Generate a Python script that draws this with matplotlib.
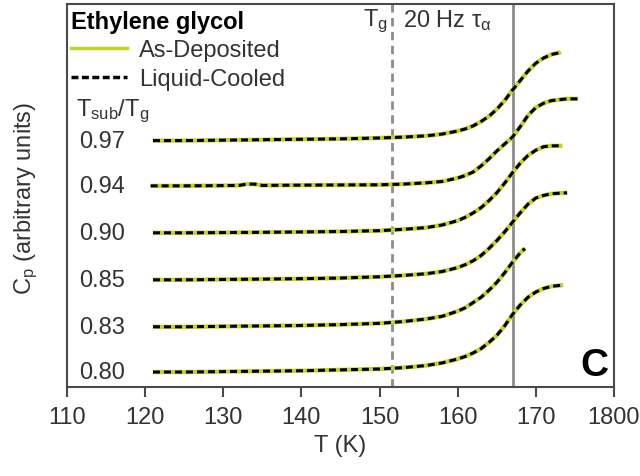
import matplotlib
matplotlib.use("Agg")
import matplotlib.pyplot as plt
from matplotlib.lines import Line2D

plt.rcParams['font.family'] = ['Liberation Sans', 'DejaVu Sans']
plt.rcParams['mathtext.fontset'] = 'custom'
plt.rcParams['mathtext.rm'] = 'Liberation Sans'
plt.rcParams['mathtext.it'] = 'Liberation Sans:italic'

green = '#c3d32a'
grey = '#8c8c8c'
frame = '#4a4a4a'

# Tsub/Tg ratios, bottom to top, with vertical offsets (arbitrary units)
ratios = ["0.80", "0.83", "0.85", "0.90", "0.94", "0.97"]
offsets = [0.0, 0.52, 1.06, 1.60, 2.14, 2.66]

# temperatures (K) and normalised Cp
t_080 = [121, 125, 130, 135, 140, 145, 150, 153, 156, 158, 160, 161, 162, 163, 164, 165, 166, 167, 168, 169, 170, 171, 172, 173.5]
cp_080 = [0, 0, 0.005, 0.01, 0.015, 0.025, 0.035, 0.05, 0.075, 0.105, 0.15, 0.18, 0.22, 0.27, 0.34, 0.42, 0.53, 0.66, 0.77, 0.86, 0.92, 0.96, 0.985, 1.0]

t_083 = [121, 125, 130, 135, 140, 145, 150, 153, 156, 158, 160, 161, 162, 163, 164, 165, 166, 167, 168, 168.6]
cp_083 = [0, 0, 0.005, 0.01, 0.015, 0.025, 0.04, 0.06, 0.09, 0.12, 0.18, 0.22, 0.28, 0.34, 0.42, 0.51, 0.62, 0.74, 0.85, 0.90]

t_085 = [121, 125, 130, 135, 140, 145, 150, 153, 156, 158, 160, 161, 162, 163, 164, 165, 166, 167, 168, 169, 170, 171, 172, 174.0]
cp_085 = [0, 0, 0.004, 0.008, 0.013, 0.02, 0.035, 0.05, 0.07, 0.095, 0.14, 0.175, 0.22, 0.28, 0.36, 0.45, 0.55, 0.66, 0.77, 0.87, 0.94, 0.97, 0.99, 1.0]

t_090 = [121, 125, 130, 135, 140, 145, 150, 153, 156, 158, 160, 161, 162, 163, 164, 165, 166, 167, 168, 169, 170, 171, 172, 173.4]
cp_090 = [0, 0, 0.003, 0.006, 0.01, 0.015, 0.025, 0.04, 0.06, 0.09, 0.14, 0.18, 0.23, 0.29, 0.37, 0.46, 0.57, 0.69, 0.80, 0.89, 0.95, 0.99, 1.0, 1.0]

t_094 = [120.7, 125, 130, 132, 133, 134, 135, 140, 145, 150, 153, 156, 158, 160, 161, 162, 163, 164, 165, 166, 167, 168, 169, 170, 171, 172, 173, 174, 175.4]
cp_094 = [0, 0, 0.003, 0.005, 0.02, 0.02, 0.005, 0.008, 0.01, 0.012, 0.02, 0.035, 0.05, 0.09, 0.12, 0.16, 0.23, 0.31, 0.40, 0.48, 0.56, 0.68, 0.81, 0.90, 0.95, 0.98, 0.99, 1.0, 1.0]

t_097 = [121, 125, 130, 135, 140, 145, 150, 153, 156, 158, 160, 161, 162, 163, 164, 165, 166, 167, 168, 169, 170, 171, 172, 173, 173.2]
cp_097 = [0, 0, 0.005, 0.01, 0.015, 0.02, 0.03, 0.04, 0.055, 0.075, 0.11, 0.135, 0.17, 0.22, 0.28, 0.36, 0.46, 0.58, 0.69, 0.80, 0.89, 0.95, 0.99, 1.01, 1.02]

temps = [t_080, t_083, t_085, t_090, t_094, t_097]
cps = [cp_080, cp_083, cp_085, cp_090, cp_094, cp_097]

tg = 151.6
t_20hz = 167.1

x_ticks = [110, 120, 130, 140, 150, 160, 170, 180]
x_tick_labels = ["110", "120", "130", "140", "150", "160", "170", "1800"]

fig = plt.figure(figsize=(6.4, 4.77), dpi=100)
ax = fig.add_axes([67 / 640, 1 - 388 / 477, 547 / 640, 383 / 477])

ax.axvline(tg, color=grey, lw=2, ls=(0, (3, 2)))
ax.axvline(t_20hz, color=grey, lw=2)

for t, cp, off, lab in zip(temps, cps, offsets, ratios):
    y = [c + off for c in cp]
    ax.plot(t, y, color=green, lw=3.1, solid_capstyle='butt')
    ax.plot(t, y, color='black', lw=2.2, ls=(0, (2.3, 1.3)))
    ax.text(111.6, off, lab, fontsize=17, va='center', ha='left', color='#333333')

ax.set_xlim(110, 180)
ax.set_ylim(-0.172, 4.23)
ax.set_xticks(x_ticks)
ax.set_xticklabels(x_tick_labels)
ax.set_yticks([])
ax.tick_params(axis='x', direction='out', length=7, width=1.5, color=frame,
               labelsize=17, labelcolor='#333333', pad=7)
for s in ax.spines.values():
    s.set_color(frame)
    s.set_linewidth(1.5)

ax.set_xlabel("T (K)", fontsize=17, color='#333333', labelpad=4)
ax.set_ylabel(r"C$_\mathregular{p}$ (arbitrary units)", fontsize=17, color='#333333')
ax.yaxis.set_label_coords(-0.05, 0.495)

handles = [Line2D([], [], color=green, lw=2.5),
           Line2D([], [], color='black', lw=2.5, ls=(0, (2, 1)))]
leg = ax.legend(handles, ["As-Deposited", "Liquid-Cooled"], loc='upper left',
                bbox_to_anchor=(-0.002, 0.997), frameon=False, fontsize=17,
                title="Ethylene glycol", title_fontproperties={'weight': 'bold', 'size': 17},
                alignment='left', handlelength=2.4, handletextpad=0.5,
                labelspacing=0.28, borderpad=0.1, borderaxespad=0.1)
for txt in leg.get_texts():
    txt.set_color('#333333')

ax.text(0.016, 0.722, r"T$_\mathregular{sub}$/T$_\mathregular{g}$", transform=ax.transAxes,
        fontsize=17, color='#333333', va='center')
ax.text(151.1, 4.2, r"T$_\mathregular{g}$", fontsize=17, ha='right', va='top', color='#333333')
ax.text(153.0, 4.2, r"20 Hz τ$_\mathregular{α}$", fontsize=17, ha='left', va='top', color='#333333')
ax.text(0.99, 0.01, "C", transform=ax.transAxes, fontsize=28, fontweight='bold',
        ha='right', va='bottom')

fig.savefig("out.png", dpi=100)
